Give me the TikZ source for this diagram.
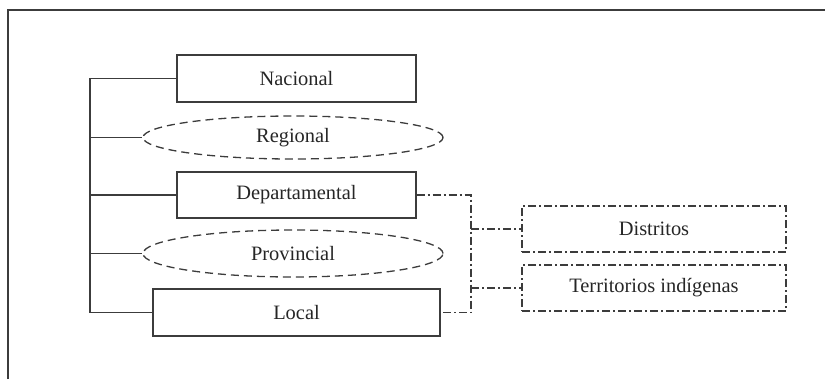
\documentclass[tikz,border=0pt]{standalone}
\usepackage{fontspec}
\setmainfont{Liberation Serif}
\usetikzlibrary{shapes.geometric}
\definecolor{ln}{HTML}{3c3c3c}
\begin{document}
\begin{tikzpicture}[x=1bp,y=-1bp,
  every node/.style={font=\fontsize{20.5}{22}\selectfont, text=black!85},
  solidbox/.style={draw=ln, line width=1.3bp, rectangle, inner sep=0},
  dashell/.style={draw=ln, line width=1.3bp, ellipse, inner sep=0, dash pattern=on 8bp off 5bp},
  dotbox/.style={draw=ln, line width=1.3bp, rectangle, inner sep=0, dash pattern=on 8bp off 3bp on 2bp off 3bp},
  conn/.style={draw=ln, line width=1.3bp},
  dconn/.style={draw=ln, line width=1.3bp, dash pattern=on 8bp off 3bp on 2bp off 3bp}]
\useasboundingbox (0,0) rectangle (825,379);
\draw[conn] (8,379) -- (8,10) -- (825,10);
\node[solidbox, minimum width=239bp, minimum height=47bp] (nac) at (296.5,78.5) {Nacional};
\node[dashell, minimum width=300bp, minimum height=43bp] (reg) at (293,137.5) {Regional};
\node[solidbox, minimum width=239bp, minimum height=46bp] (dep) at (296.5,195) {Departamental};
\node[dashell, minimum width=300bp, minimum height=47bp] (pro) at (293,253.5) {Provincial};
\node[solidbox, minimum width=287bp, minimum height=47bp] (loc) at (296.5,312.5) {Local};
\node[dotbox, minimum width=264bp, minimum height=46bp] (dis) at (654,229) {Distritos};
\node[dotbox, minimum width=264bp, minimum height=46bp] (ter) at (654,288) {Territorios indígenas};
\coordinate (sp) at (90,0);
\draw[conn] (nac.west) -- (nac.west -| sp) -- (loc.west -| sp) -- (loc.west);
\draw[conn] (reg.west -| sp) -- (reg.west);
\draw[conn] (dep.west -| sp) -- (dep.west);
\draw[conn] (pro.west -| sp) -- (pro.west);
\coordinate (dx) at (471,0);
\draw[dconn] (dep.east) -- (dep.east -| dx) -- (loc.east -| dx) -- (loc.east);
\draw[dconn] (dis.west -| dx) -- (dis.west);
\draw[dconn] (ter.west -| dx) -- (ter.west);
\end{tikzpicture}
\end{document}
